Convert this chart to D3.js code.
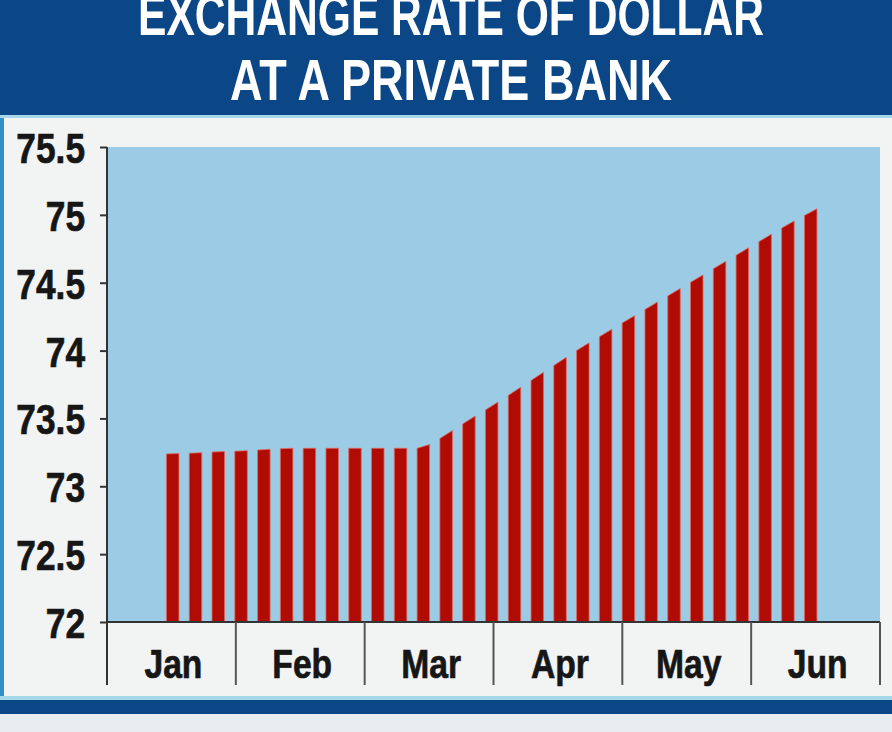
<!DOCTYPE html>
<html>
<head>
<meta charset="utf-8">
<script src="https://cdn.jsdelivr.net/npm/d3@7"></script>
<style>
  html, body { margin: 0; padding: 0; background: #f2f3f3; }
  svg { display: block; }
  .cond { font-family: "Liberation Sans", Arial, Helvetica, sans-serif; font-weight: bold; }
</style>
</head>
<body>
<svg id="chart" width="892" height="732"></svg>
<script>
// ---- data ----
const titleLines = ["EXCHANGE RATE OF DOLLAR", "AT A PRIVATE BANK"];
const months = ["Jan", "Feb", "Mar", "Apr", "May", "Jun"];
const yTickValues = [72, 72.5, 73, 73.5, 74, 74.5, 75, 75.5];
const yTickLabels = ["72", "72.5", "73", "73.5", "74", "74.5", "75", "75.5"];
const rates = [73.24, 73.245, 73.255, 73.26, 73.27, 73.28, 73.28, 73.28, 73.28, 73.28,
               73.28, 73.28, 73.38, 73.49, 73.59, 73.70, 73.81, 73.92, 74.03, 74.13,
               74.23, 74.33, 74.43, 74.53, 74.63, 74.73, 74.83, 74.93, 75.02];

// ---- layout ----
const W = 892, H = 732;
const plot = { left: 107, right: 880, top: 147, bottom: 622 };
const svg = d3.select("#chart");

// condense text horizontally (emulates a narrow bold face)
function narrow(sel, factor) {
  sel.each(function () {
    const len = this.getComputedTextLength();
    d3.select(this).attr("textLength", len * factor).attr("lengthAdjust", "spacingAndGlyphs");
  });
}

// backgrounds
svg.append("rect").attr("x", 0).attr("y", 0).attr("width", W).attr("height", H).attr("fill", "#f2f3f3");
svg.append("rect").attr("x", 0).attr("y", 0).attr("width", W).attr("height", 115).attr("fill", "#0b4686");
svg.append("rect").attr("x", 0).attr("y", 115).attr("width", W).attr("height", 3).attr("fill", "#a7d8ea");
svg.append("rect").attr("x", 0).attr("y", 118).attr("width", 4).attr("height", 582).attr("fill", "#2f8fc6");
svg.append("rect").attr("x", 0).attr("y", 696).attr("width", W).attr("height", 4).attr("fill", "#a7d8ea");
svg.append("rect").attr("x", 0).attr("y", 700).attr("width", W).attr("height", 14).attr("fill", "#0b4686");
svg.append("rect").attr("x", 0).attr("y", 714).attr("width", W).attr("height", 18).attr("fill", "#e8eef0");

// title
const title = svg.append("g").attr("class", "cond").attr("fill", "#ffffff").attr("text-anchor", "middle");
const titleY = [35, 100], titleLen = [626, 442];
titleLines.forEach((t, i) => {
  title.append("text").attr("x", 451).attr("y", titleY[i])
    .attr("font-size", 58)
    .attr("textLength", titleLen[i]).attr("lengthAdjust", "spacingAndGlyphs")
    .text(t);
});

// scales
const y = d3.scaleLinear().domain([72, 75.5]).range([plot.bottom, plot.top]);
const xMonth = d3.scaleBand().domain(months).range([plot.left, plot.right]);
const xBar = d3.scaleLinear().domain([0, rates.length - 1]).range([172.7, 810.7]);
const barW = 12.5;
const step = xBar(1) - xBar(0);

// plot background
svg.append("rect").attr("x", plot.left).attr("y", plot.top)
  .attr("width", plot.right - plot.left).attr("height", plot.bottom - plot.top)
  .attr("fill", "#9ccbe6");

// bars with slanted tops following the trend
const n = rates.length;
function barPath(d, i) {
  const cx = xBar(i);
  const slopeL = i > 0 ? (d - rates[i - 1]) : (rates[1] - rates[0]);
  const slopeR = i < n - 1 ? (rates[i + 1] - d) : (d - rates[i - 1]);
  const frac = (barW / 2) / step;
  const vl = d - slopeL * frac, vr = d + slopeR * frac;
  const xl = cx - barW / 2, xr = cx + barW / 2;
  return `M${xl},${y(72)}L${xl},${y(vl)}L${xr},${y(vr)}L${xr},${y(72)}Z`;
}
svg.append("g").selectAll("path").data(rates).join("path")
  .attr("d", barPath)
  .attr("fill", "#b00c03")
  .attr("stroke", "#e0685e")
  .attr("stroke-width", 0.8);

// y axis
const yAxis = d3.axisLeft(y).tickValues(yTickValues)
  .tickFormat((d, i) => yTickLabels[i]).tickSize(7).tickPadding(15);
const gy = svg.append("g").attr("transform", `translate(${plot.left},0)`).call(yAxis);
gy.select(".domain").remove();
gy.selectAll(".tick line").attr("stroke", "#333").attr("stroke-width", 2);
const yTexts = gy.selectAll(".tick text").attr("class", "cond").attr("font-size", 43)
  .attr("fill", "#161616").attr("stroke", "#161616").attr("stroke-width", 0.7).attr("dy", "0.36em");
narrow(yTexts, 0.82);
svg.append("line").attr("x1", plot.left).attr("x2", plot.left).attr("y1", plot.top).attr("y2", 685)
  .attr("stroke", "#333").attr("stroke-width", 2);

// x axis (month bands with separators)
svg.append("line").attr("x1", plot.left).attr("x2", plot.right).attr("y1", plot.bottom).attr("y2", plot.bottom)
  .attr("stroke", "#333").attr("stroke-width", 2);
const seps = months.map(m => xMonth(m) + xMonth.bandwidth());
svg.append("g").selectAll("line").data(seps).join("line")
  .attr("x1", d => d).attr("x2", d => d).attr("y1", plot.bottom).attr("y2", 685)
  .attr("stroke", "#555").attr("stroke-width", 2);
const mTexts = svg.append("g").attr("class", "cond").selectAll("text").data(months).join("text")
  .attr("x", d => xMonth(d) + xMonth.bandwidth() / 2 + 2)
  .attr("y", 678)
  .attr("text-anchor", "middle")
  .attr("font-size", 41)
  .attr("fill", "#161616").attr("stroke", "#161616").attr("stroke-width", 0.7)
  .text(d => d);
narrow(mTexts, 0.82);
</script>
</body>
</html>
